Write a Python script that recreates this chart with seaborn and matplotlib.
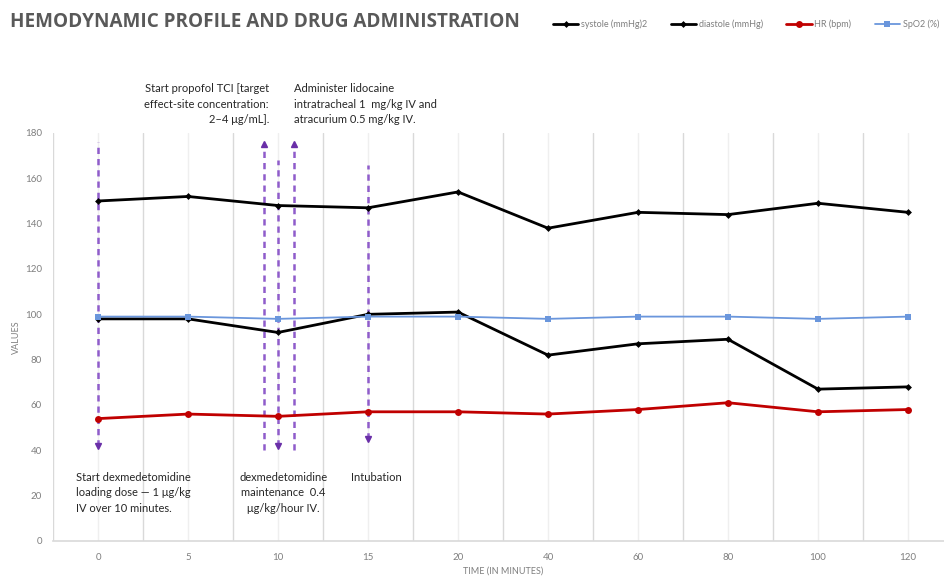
import numpy as np
import pandas as pd
import matplotlib
matplotlib.use("Agg")
import matplotlib.pyplot as plt
from matplotlib.lines import Line2D
import seaborn as sns

# ---- data -------------------------------------------------------------
time_labels = ["0", "5", "10", "15", "20", "40", "60", "80", "100", "120"]
systole = [150, 152, 148, 147, 154, 138, 145, 144, 149, 145]
diastole = [98, 98, 92, 100, 101, 82, 87, 89, 67, 68]
heart_rate = [54, 56, 55, 57, 57, 56, 58, 61, 57, 58]
spo2 = [99, 99, 98, 99, 99, 98, 99, 99, 98, 99]

series_names = ["systole (mmHg)2", "diastole (mmHg)", "HR (bpm)", "SpO2 (%)"]

# drug administration events (category position, top, bottom, arrow direction)
event_pos = [0.0, 1.84, 2.0, 2.18, 3.0]
event_top = [176, 175, 168, 175, 166]
event_bottom = [42, 40, 42, 40, 45]
event_dir = ["down", "up", "down", "up", "down"]

note_propofol = "Start propofol TCI [target\neffect-site concentration:\n2\u20134 \u03bcg/mL]."
note_lidocaine = "Administer lidocaine\nintratracheal 1  mg/kg IV and\natracurium 0.5 mg/kg IV."
note_loading = "Start dexmedetomidine\nloading dose \u2014 1 \u03bcg/kg\nIV over 10 minutes."
note_maint = "dexmedetomidine\nmaintenance  0.4\n\u03bcg/kg/hour IV."
note_intub = "Intubation"

# ---- styling ------------------------------------------------------------
sns.set_theme(style="white")
plt.rcParams["font.family"] = ["Lato", "DejaVu Sans"]

pos = np.arange(len(time_labels))
df = pd.DataFrame({
    "pos": np.tile(pos, 4),
    "value": systole + diastole + heart_rate + spo2,
    "series": np.repeat(series_names, len(pos)),
})

colors = {series_names[0]: "#000000", series_names[1]: "#000000",
          series_names[2]: "#C00000", series_names[3]: "#6A96DC"}
widths = {series_names[0]: 2.0, series_names[1]: 2.0,
          series_names[2]: 2.0, series_names[3]: 1.3}
markers = {series_names[0]: "D", series_names[1]: "D",
           series_names[2]: "o", series_names[3]: "s"}
msizes = {series_names[0]: 3.5, series_names[1]: 3.5,
          series_names[2]: 5, series_names[3]: 5}

fig = plt.figure(figsize=(9.44, 5.76), dpi=100)
ax = fig.add_axes([53 / 944, 35 / 576, 900 / 944, 408 / 576])

# vertical grid: category boundaries and centres
for b in np.arange(-0.5, len(pos) + 0.5, 1.0):
    ax.axvline(b, color="#d9d9d9", lw=1.0, zorder=0)
for c in pos:
    ax.axvline(c, color="#efefef", lw=1.0, zorder=0)

# drug administration arrows (drawn under the data lines)
for x, top, bot, d in zip(event_pos, event_top, event_bottom, event_dir):
    ax.plot([x, x], [bot, top], color="#8F5CCB", lw=1.8,
            ls=(0, (2.5, 2.0)), zorder=1)
    tip_y, mk = (bot, "v") if d == "down" else (top, "^")
    ax.plot([x], [tip_y], marker=mk, color="#6A2FA8", ms=5, zorder=1)

for name in series_names:
    sub = df[df["series"] == name]
    sns.lineplot(data=sub, x="pos", y="value", ax=ax, color=colors[name],
                 lw=widths[name], marker=markers[name], ms=msizes[name],
                 markeredgewidth=0, legend=False, zorder=3)

ax.set_xlim(-0.5, len(pos) - 0.5)
ax.set_ylim(0, 180)
ax.set_xticks(pos)
ax.set_xticklabels(time_labels)
ax.set_yticks(np.arange(0, 181, 20))
ax.tick_params(axis="both", length=0, labelsize=7, labelcolor="#7f7f7f")
ax.tick_params(axis="x", pad=9)
ax.tick_params(axis="y", pad=8)
for s in ["top", "right"]:
    ax.spines[s].set_visible(False)
ax.spines["left"].set_visible(False)
ax.spines["bottom"].set_color("#d9d9d9")
ax.spines["bottom"].set_linewidth(1.2)

ax.set_xlabel("TIME (IN MINUTES)", fontsize=6.5, color="#7f7f7f")
ax.xaxis.set_label_coords(0.5, -0.062)
ax.set_ylabel("VALUES", fontsize=6.5, color="#7f7f7f")
ax.yaxis.set_label_coords(-0.041, 0.5)
ax.yaxis.label.set_va("center")

# event notes
note_kw = dict(fontsize=8, color="#262626", linespacing=1.5, clip_on=False)
ax.text(1.90, 202, note_propofol, ha="right", va="top", **note_kw)
ax.text(2.18, 202, note_lidocaine, ha="left", va="top", **note_kw)
ax.text(-0.24, 30.5, note_loading, ha="left", va="top", **note_kw)
ax.text(2.06, 30.5, note_maint, ha="center", va="top", multialignment="center", **note_kw)
ax.text(3.09, 30.5, note_intub, ha="center", va="top", **note_kw)

fig.text(10 / 944, 1 - 22 / 576, "HEMODYNAMIC PROFILE AND DRUG ADMINISTRATION",
         fontsize=13.6, fontweight="bold", color="#595959",
         family=["Open Sans", "DejaVu Sans"], ha="left", va="center")

handles = [Line2D([], [], color=colors[n], lw=widths[n], marker=markers[n],
                  ms=msizes[n], markeredgewidth=0) for n in series_names]
fig.legend(handles, series_names, loc="center left",
           bbox_to_anchor=(553 / 944, 1 - 24 / 576), ncol=4, frameon=False,
           fontsize=6.5, labelcolor="#7f7f7f", handlelength=2.8,
           handletextpad=0.3, columnspacing=2.6, borderaxespad=0, borderpad=0)

fig.savefig("out.png", dpi=100)
